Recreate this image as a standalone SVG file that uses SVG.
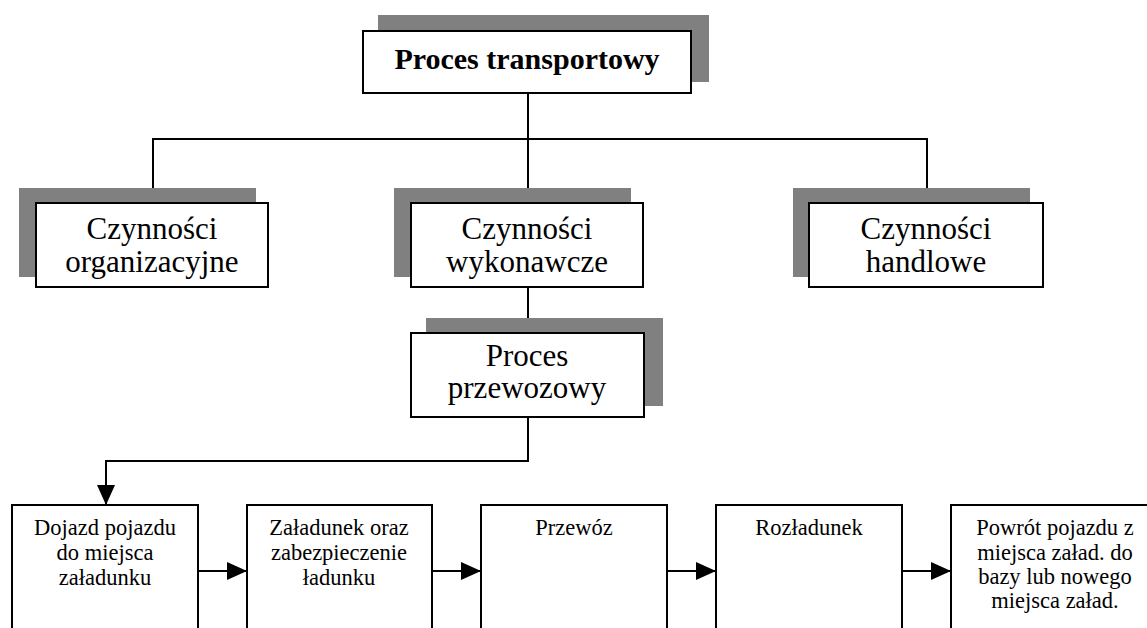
<svg xmlns="http://www.w3.org/2000/svg" width="1147" height="628" viewBox="0 0 1147 628">
<style>
.shadow{fill:#808080;stroke:none}
.box{fill:#fff;stroke:#000;stroke-width:2}
.t{font-family:"Liberation Serif","Times New Roman",serif;fill:#000;text-anchor:middle}
.big{font-size:31px}
.small{font-size:22.5px}
.title{font-size:30px;font-weight:bold}
.c{fill:none;stroke:#000;stroke-width:2}
</style>
<defs>
<marker id="ah" markerUnits="userSpaceOnUse" markerWidth="20" markerHeight="18" refX="20" refY="9" orient="auto">
<path d="M0,0 L20,9 L0,18 z" fill="#000"/>
</marker>
</defs>
<rect x="0" y="0" width="1147" height="628" fill="#fff"/>
<g id="connectors">
<path class="c" d="M528,93 V139"/>
<path class="c" d="M153,190 V139 H927 V190"/>
<path class="c" d="M528,139 V190"/>
<path class="c" d="M528,287 V333"/>
<path class="c" d="M528,417 V461 H106 V505" marker-end="url(#ah)"/>
<path class="c" d="M198,571 H247" marker-end="url(#ah)"/>
<path class="c" d="M432,571 H481" marker-end="url(#ah)"/>
<path class="c" d="M667,571 H716" marker-end="url(#ah)"/>
<path class="c" d="M902,571 H951" marker-end="url(#ah)"/>
</g>
<g id="proces-transportowy">
<rect class="shadow" x="378" y="15" width="331" height="67"/>
<rect class="box" x="363" y="31" width="328" height="62"/>
<text class="t title" x="527" y="69">Proces transportowy</text>
</g>
<g id="czynnosci-organizacyjne">
<rect class="shadow" x="19" y="188" width="237" height="89"/>
<rect class="box" x="36" y="203" width="232" height="84"/>
<text class="t big" x="152" y="239">Czynności</text>
<text class="t big" x="152" y="272">organizacyjne</text>
</g>
<g id="czynnosci-wykonawcze">
<rect class="shadow" x="394" y="188" width="237" height="89"/>
<rect class="box" x="411" y="203" width="232" height="84"/>
<text class="t big" x="527" y="239">Czynności</text>
<text class="t big" x="527" y="272">wykonawcze</text>
</g>
<g id="czynnosci-handlowe">
<rect class="shadow" x="793" y="188" width="237" height="89"/>
<rect class="box" x="809" y="203" width="234" height="84"/>
<text class="t big" x="926" y="239">Czynności</text>
<text class="t big" x="926" y="272">handlowe</text>
</g>
<g id="proces-przewozowy">
<rect class="shadow" x="426" y="318" width="237" height="88"/>
<rect class="box" x="411" y="333" width="233" height="84"/>
<text class="t big" x="527" y="366">Proces</text>
<text class="t big" x="527" y="398">przewozowy</text>
</g>
<g id="dojazd">
<rect class="box" x="12" y="505" width="186" height="140"/>
<text class="t small" x="105" y="535">Dojazd pojazdu</text>
<text class="t small" x="105" y="560">do miejsca</text>
<text class="t small" x="105" y="585">załadunku</text>
</g>
<g id="zaladunek">
<rect class="box" x="247" y="505" width="185" height="140"/>
<text class="t small" x="339" y="535">Załadunek oraz</text>
<text class="t small" x="339" y="560">zabezpieczenie</text>
<text class="t small" x="339" y="585">ładunku</text>
</g>
<g id="przewoz">
<rect class="box" x="481" y="505" width="186" height="140"/>
<text class="t small" x="574" y="535">Przewóz</text>
</g>
<g id="rozladunek">
<rect class="box" x="716" y="505" width="186" height="140"/>
<text class="t small" x="809" y="535">Rozładunek</text>
</g>
<g id="powrot">
<rect class="box" x="951" y="505" width="210" height="140"/>
<text class="t small" x="1055" y="535">Powrót pojazdu z</text>
<text class="t small" x="1055" y="560">miejsca załad. do</text>
<text class="t small" x="1055" y="584">bazy lub nowego</text>
<text class="t small" x="1055" y="608">miejsca załad.</text>
</g>
</svg>
